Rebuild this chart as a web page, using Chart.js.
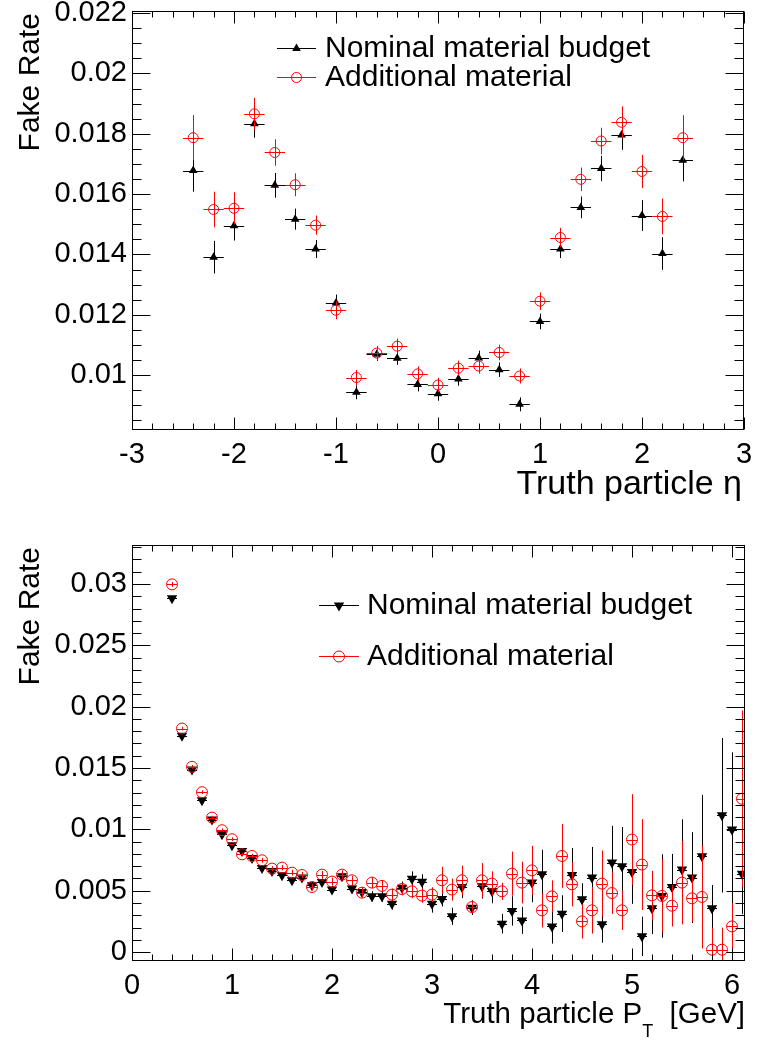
<!DOCTYPE html>
<html><head><meta charset="utf-8">
<script src="https://cdn.jsdelivr.net/npm/chart.js@4.4.1/dist/chart.umd.min.js"></script>
<style>
html,body{margin:0;padding:0;background:#fff;}
#wrap{position:relative;width:758px;height:1040px;background:#fff;}
.c{position:absolute;left:0;width:758px;height:520px;}
</style></head><body>
<div id="wrap">
<div class="c" style="top:0"><canvas id="topChart" width="758" height="520"></canvas></div>
<div class="c" style="top:520px"><canvas id="botChart" width="758" height="520"></canvas></div>
</div>
<script>
// ---------- data ----------
const seriesLabels = ['Nominal material budget', 'Additional material'];

const etaBins = [-2.4,-2.2,-2.0,-1.8,-1.6,-1.4,-1.2,-1.0,-0.8,-0.6,-0.4,-0.2,0.0,0.2,0.4,0.6,0.8,1.0,1.2,1.4,1.6,1.8,2.0,2.2,2.4];
const etaNominal = [0.01678,0.01391,0.01495,0.01833,0.01629,0.01517,0.01418,0.01239,0.00943,0.01069,0.01056,0.00969,0.00938,0.00987,0.01057,0.01018,0.00903,0.01178,0.01418,0.01556,0.01685,0.01796,0.01529,0.01403,0.01712];
const etaNominalErr = [0.0007,0.00054,0.00049,0.00046,0.00041,0.00035,0.0003,0.00028,0.00023,0.00022,0.00022,0.00023,0.00023,0.00022,0.00024,0.00024,0.00023,0.00026,0.0003,0.00036,0.00042,0.00049,0.00051,0.00054,0.0007];
const etaAdditional = [0.01787,0.01549,0.01553,0.01866,0.01738,0.01631,0.01497,0.01215,0.00992,0.01073,0.01096,0.01004,0.00967,0.01023,0.0103,0.01075,0.00997,0.01245,0.01456,0.01649,0.01776,0.01838,0.01675,0.01526,0.01787];
const etaAdditionalErr = [0.00075,0.00059,0.00053,0.00053,0.00044,0.00038,0.00032,0.0003,0.00025,0.00024,0.00025,0.00025,0.00024,0.00025,0.00025,0.00026,0.00025,0.00029,0.00032,0.00039,0.00044,0.00053,0.00055,0.00059,0.00075];
const etaXTicks = [-3,-2,-1,0,1,2,3];
const etaYTicks = [0.01,0.012,0.014,0.016,0.018,0.02,0.022];

const ptBins = [0.4,0.5,0.6,0.7,0.8,0.9,1.0,1.1,1.2,1.3,1.4,1.5,1.6,1.7,1.8,1.9,2.0,2.1,2.2,2.3,2.4,2.5,2.6,2.7,2.8,2.9,3.0,3.1,3.2,3.3,3.4,3.5,3.6,3.7,3.8,3.9,4.0,4.1,4.2,4.3,4.4,4.5,4.6,4.7,4.8,4.9,5.0,5.1,5.2,5.3,5.4,5.5,5.6,5.7,5.8,5.9,6.0,6.1];
const ptNominal = [0.02884,0.01763,0.01488,0.01238,0.0108,0.0096,0.0087,0.00824,0.00767,0.00686,0.00661,0.00626,0.00585,0.00607,0.00544,0.00571,0.00509,0.00617,0.00517,0.0049,0.00454,0.00454,0.00394,0.00525,0.00598,0.00574,0.00394,0.00432,0.00291,0.0053,0.00362,0.00536,0.00498,0.00231,0.00335,0.00258,0.00566,0.00634,0.00209,0.00313,0.00628,0.0043,0.00607,0.00226,0.00729,0.00699,0.00653,0.00128,0.00356,0.00457,0.0053,0.00672,0.00607,0.00781,0.00356,0.01115,0.00998,0.00639];
const ptNominalErr = [0.0002,0.00015,0.00015,0.00015,0.00015,0.00015,0.00015,0.00015,0.00018,0.0002,0.0002,0.00022,0.00024,0.00026,0.00028,0.0003,0.00032,0.00035,0.00037,0.0004,0.00042,0.00045,0.00048,0.0005,0.0006,0.0006,0.00073,0.0006,0.0007,0.0009,0.0006,0.001,0.001,0.0008,0.0012,0.0011,0.0016,0.002,0.0014,0.0015,0.0022,0.0013,0.0025,0.0015,0.003,0.0032,0.0026,0.0016,0.0021,0.0034,0.0027,0.0041,0.0037,0.005,0.0019,0.0063,0.0063,0.0033];
const ptAdditional = [0.02997,0.01822,0.0151,0.01303,0.01096,0.00993,0.0092,0.00797,0.00783,0.00748,0.0068,0.00688,0.00647,0.00628,0.0053,0.00631,0.00574,0.00631,0.00585,0.00484,0.00566,0.00539,0.00468,0.00514,0.00495,0.0046,0.00468,0.00585,0.00509,0.00585,0.00367,0.00585,0.00558,0.00495,0.00639,0.00566,0.00666,0.0034,0.00454,0.00783,0.00552,0.0025,0.0034,0.00558,0.00481,0.0034,0.00917,0.00713,0.00462,0.00457,0.00378,0.00566,0.00438,0.00449,0.00019,0.00019,0.00209,0.01249];
const ptAdditionalErr = [0.0002,0.00015,0.00015,0.00015,0.00015,0.00015,0.00015,0.00015,0.00018,0.0002,0.0002,0.00022,0.00024,0.00026,0.00028,0.0003,0.00032,0.00035,0.00037,0.0004,0.00045,0.00048,0.0005,0.00052,0.00055,0.00058,0.0006,0.0011,0.0009,0.0012,0.0005,0.0014,0.001,0.0007,0.0018,0.0017,0.002,0.0014,0.0013,0.0026,0.0018,0.0014,0.0019,0.0027,0.0017,0.0016,0.0037,0.0037,0.002,0.003,0.0017,0.0034,0.0019,0.0042,0.0018,0.0018,0.0019,0.0072];
const ptXTicks = [0,1,2,3,4,5,6];
const ptYTicks = [0,0.005,0.01,0.015,0.02,0.025,0.03];

// ---------- helpers ----------
const FONT = "'Liberation Sans', Arial, Helvetica, sans-serif";
const RED = '#ff0000';
const BLACK = '#000000';

function pts(xs, ys){ return xs.map((x,i)=>({x:x, y:ys[i]})); }
function fmt(v){ return String(Number(v.toFixed(4))); }

const errPlugin = {
  id:'errbars',
  beforeDatasetDraw(chart, args){
    const ds = chart.data.datasets[args.index];
    const xs = chart.scales.x, ys = chart.scales.y, a = chart.chartArea, ctx = chart.ctx;
    ctx.save();
    ctx.beginPath(); ctx.rect(a.left, a.top, a.right-a.left, a.bottom-a.top); ctx.clip();
    ctx.strokeStyle = ds.errColor; ctx.lineWidth = 1;
    ds.data.forEach((p,i)=>{
      const px = Math.round(xs.getPixelForValue(p.x)) + 0.5;
      const py = Math.round(ys.getPixelForValue(p.y)) + 0.5;
      const x1 = xs.getPixelForValue(p.x - ds.halfWidth), x2 = xs.getPixelForValue(p.x + ds.halfWidth);
      const y1 = ys.getPixelForValue(p.y + ds.err[i]), y2 = ys.getPixelForValue(p.y - ds.err[i]);
      ctx.beginPath();
      ctx.moveTo(x1, py); ctx.lineTo(x2, py);
      ctx.moveTo(px, y1); ctx.lineTo(px, y2);
      ctx.stroke();
    });
    ctx.restore();
  }
};

function drawMarker(ctx, ds, x, y){
  ctx.save();
  ctx.lineWidth = 1;
  if (ds.pointStyle === 'circle'){
    ctx.strokeStyle = ds.borderColor;
    ctx.beginPath(); ctx.arc(x, y, ds.pointRadius, 0, Math.PI*2); ctx.stroke();
  } else {
    ctx.fillStyle = ds.backgroundColor;
    const r = ds.pointRadius; const rot = (ds.pointRotation||0)*Math.PI/180;
    ctx.beginPath();
    for (let k=0;k<3;k++){
      const ang = rot + k*2*Math.PI/3;
      const vx = x + Math.sin(ang)*r, vy = y - Math.cos(ang)*r;
      if (k===0) ctx.moveTo(vx,vy); else ctx.lineTo(vx,vy);
    }
    ctx.closePath(); ctx.fill();
  }
  ctx.restore();
}

const framePlugin = {
  id:'frame',
  afterDraw(chart, args, opts){
    const ctx = chart.ctx, a = chart.chartArea, xs = chart.scales.x, ys = chart.scales.y;
    ctx.save();
    ctx.strokeStyle = '#000'; ctx.lineWidth = 1;
    const L = Math.round(a.left)+0.5, R = Math.round(a.right)-0.5, T = Math.round(a.top)+0.5, B = Math.round(a.bottom)-0.5;
    ctx.strokeRect(L, T, R-L, B-T);
    ctx.beginPath();
    const xMinor = [];
    for (let v = Math.ceil(xs.min/opts.xMinor - 1e-9)*opts.xMinor; v <= xs.max + 1e-9; v += opts.xMinor) xMinor.push(v);
    xMinor.forEach(v=>{
      const isMajor = opts.xTicks.some(t=>Math.abs(t-v)<1e-9);
      const len = isMajor ? 12 : 6;
      const px = Math.round(xs.getPixelForValue(v))+0.5;
      ctx.moveTo(px, B); ctx.lineTo(px, B-len);
      ctx.moveTo(px, T); ctx.lineTo(px, T+len);
    });
    const yMinor = [];
    for (let v = Math.ceil(ys.min/opts.yMinor - 1e-9)*opts.yMinor; v <= ys.max + 1e-12; v += opts.yMinor) yMinor.push(v);
    yMinor.forEach(v=>{
      const isMajor = opts.yTicks.some(t=>Math.abs(t-v)<1e-9);
      const len = isMajor ? 18 : 9;
      const py = Math.round(ys.getPixelForValue(v))+0.5;
      ctx.moveTo(L, py); ctx.lineTo(L+len, py);
      ctx.moveTo(R, py); ctx.lineTo(R-len, py);
    });
    ctx.stroke();

    // y title
    ctx.fillStyle = '#000';
    ctx.save();
    ctx.translate(opts.yTitleX, a.top + 2);
    ctx.rotate(-Math.PI/2);
    ctx.font = '30px ' + FONT;
    ctx.textAlign = 'right'; ctx.textBaseline = 'alphabetic';
    ctx.fillText('Fake Rate', 0, 0);
    ctx.restore();

    // x title (right aligned, may contain a subscript part)
    ctx.textBaseline = 'alphabetic';
    const parts = opts.xTitle;
    let total = 0;
    parts.forEach(p=>{ ctx.font = p.size+'px '+FONT; p.w = ctx.measureText(p.text).width; total += p.w; });
    let x = opts.xTitleRight - total;
    parts.forEach(p=>{ ctx.font = p.size+'px '+FONT; ctx.textAlign='left'; ctx.fillText(p.text, x, opts.xTitleY + (p.dy||0)); x += p.w; });

    // legend
    const lg = opts.legend;
    chart.data.datasets.forEach((ds, i)=>{
      const y = lg.y[i];
      ctx.strokeStyle = ds.errColor; ctx.lineWidth = 1;
      ctx.beginPath(); ctx.moveTo(lg.x1, Math.round(y)+0.5); ctx.lineTo(lg.x2, Math.round(y)+0.5); ctx.stroke();
      drawMarker(ctx, ds, (lg.x1+lg.x2)/2, Math.round(y)+0.5);
      ctx.fillStyle = '#000';
      ctx.font = '30px ' + FONT; ctx.textAlign = 'left'; ctx.textBaseline = 'middle';
      ctx.fillText(ds.label, lg.tx, y + 1);
    });
    ctx.restore();
  }
};

function makeChart(id, cfg){
  return new Chart(document.getElementById(id), {
    type:'scatter',
    data:{ datasets: cfg.datasets },
    options:{
      responsive:false, animation:false, devicePixelRatio:1,
      layout:{ padding:{ top:cfg.padTop, right:cfg.padRight, left:0, bottom:0 } },
      plugins:{ legend:{display:false}, tooltip:{enabled:false},
        frame: cfg.frame },
      scales:{
        x:{ type:'linear', min:cfg.xMin, max:cfg.xMax,
          grid:{display:false, drawTicks:false}, border:{display:false},
          ticks:{ padding:8, color:'#000', font:{family:FONT, size:29}, autoSkip:false, maxRotation:0, minRotation:0, callback:(v)=>fmt(v) },
          afterBuildTicks:(s)=>{ s.ticks = cfg.xTicks.map(v=>({value:v})); },
          afterFit:(s)=>{ s.height = cfg.xAxisH; s.paddingLeft=0; s.paddingRight=0; }
        },
        y:{ type:'linear', min:cfg.yMin, max:cfg.yMax,
          grid:{display:false, drawTicks:false}, border:{display:false},
          ticks:{ padding:5, color:'#000', font:{family:FONT, size:29}, autoSkip:false, callback:(v)=>fmt(v) },
          afterBuildTicks:(s)=>{ s.ticks = cfg.yTicks.map(v=>({value:v})); },
          afterFit:(s)=>{ s.width = 132; s.paddingTop=0; s.paddingBottom=0; }
        }
      }
    },
    plugins:[errPlugin, framePlugin]
  });
}

makeChart('topChart', {
  padTop:11, padRight:14, xAxisH:90,
  xMin:-3, xMax:3, yMin:0.00818, yMax:0.02207,
  xTicks:etaXTicks, yTicks:etaYTicks,
  datasets:[
    { label:seriesLabels[0], data:pts(etaBins, etaNominal), err:etaNominalErr, halfWidth:0.1, errColor:BLACK,
      pointStyle:'triangle', pointRotation:0, pointRadius:5, backgroundColor:BLACK, borderColor:BLACK, borderWidth:0, order:2 },
    { label:seriesLabels[1], data:pts(etaBins, etaAdditional), err:etaAdditionalErr, halfWidth:0.1, errColor:RED,
      pointStyle:'circle', pointRadius:5, backgroundColor:'rgba(0,0,0,0)', borderColor:RED, borderWidth:1, order:1 }
  ],
  frame:{ xTicks:etaXTicks, yTicks:etaYTicks, xMinor:0.2, yMinor:0.0005,
    yTitleX:39, xTitleRight:742, xTitleY:494,
    xTitle:[{text:'Truth particle \u03b7', size:34}],
    legend:{ x1:277, x2:316, tx:325, y:[48,77] } }
});

makeChart('botChart', {
  padTop:25, padRight:13, xAxisH:79,
  xMin:0, xMax:6.13, yMin:-0.00073, yMax:0.03318,
  xTicks:ptXTicks, yTicks:ptYTicks,
  datasets:[
    { label:seriesLabels[0], data:pts(ptBins, ptNominal), err:ptNominalErr, halfWidth:0.05, errColor:BLACK,
      pointStyle:'triangle', pointRotation:180, pointRadius:6, backgroundColor:BLACK, borderColor:BLACK, borderWidth:0, order:2 },
    { label:seriesLabels[1], data:pts(ptBins, ptAdditional), err:ptAdditionalErr, halfWidth:0.05, errColor:RED,
      pointStyle:'circle', pointRadius:5.5, backgroundColor:'rgba(0,0,0,0)', borderColor:RED, borderWidth:1, order:1 }
  ],
  frame:{ xTicks:ptXTicks, yTicks:ptYTicks, xMinor:0.2, yMinor:0.001,
    yTitleX:39, xTitleRight:745, xTitleY:503,
    xTitle:[{text:'Truth particle P', size:29.5},{text:'T', size:18, dy:14},{text:'  [GeV]', size:29.5}],
    legend:{ x1:319, x2:359, tx:367, y:[85,136] } }
});
</script>
</body></html>
